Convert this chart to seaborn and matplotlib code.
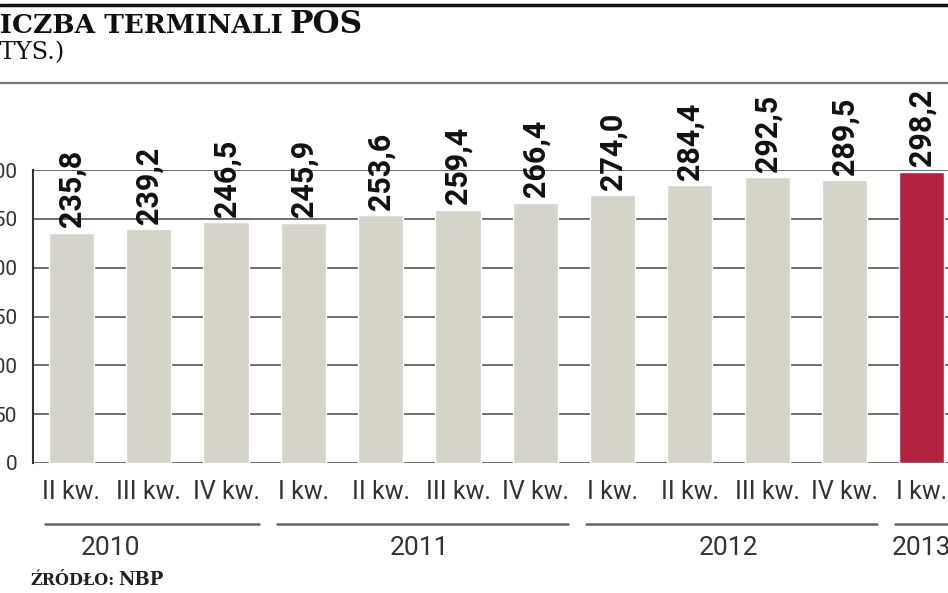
import matplotlib.pyplot as plt
import seaborn as sns
import pandas as pd
from matplotlib.lines import Line2D

# dane: liczba terminali POS (tys.), NBP
kwartaly = ['II kw.', 'III kw.', 'IV kw.',
            'I kw.', 'II kw.', 'III kw.', 'IV kw.',
            'I kw.', 'II kw.', 'III kw.', 'IV kw.',
            'I kw.']
numer_kw = [2, 3, 4, 1, 2, 3, 4, 1, 2, 3, 4, 1]
rok = [2010, 2010, 2010, 2011, 2011, 2011, 2011, 2012, 2012, 2012, 2012, 2013]
terminale = [235.8, 239.2, 246.5, 245.9, 253.6, 259.4, 266.4, 274.0, 284.4, 292.5, 289.5, 298.2]
yticks = [0, 50, 100, 150, 200, 250, 300]

szary = '#d4d4ca'
czerwony = '#b3223f'

df = pd.DataFrame({'okres': [k + ' ' + str(r) for k, r in zip(kwartaly, rok)],
                   'wartosc': terminale})
kolory = [szary] * (len(terminale) - 1) + [czerwony]

sns.set_style('white')
plt.rcParams['font.family'] = ['Roboto', 'DejaVu Sans']

fig = plt.figure(figsize=(9.48, 5.93), dpi=100)
ax = fig.add_axes([33 / 948, 130 / 593, 1 - 33 / 948, 293 / 593])

sns.barplot(data=df, x='okres', y='wartosc', hue='okres', palette=kolory,
            legend=False, width=0.585, saturation=1, ax=ax, zorder=2)

ax.set_xlim(-0.498, 11.34)
ax.set_ylim(0, 300)
ax.set_yticks(yticks)
ax.set_yticklabels([str(t) for t in yticks], fontsize=15, color='#333')
ax.set_xticks(range(len(kwartaly)))
ax.set_xticklabels(kwartaly, fontsize=18, color='#333')
ax.tick_params(axis='y', length=0, pad=11.5)
ax.tick_params(axis='x', length=0, pad=12.5)
ax.set_xlabel('')
ax.set_ylabel('')
ax.yaxis.grid(True, color='#555', lw=1.2)
ax.set_axisbelow(True)
for s in ['top', 'right', 'bottom']:
    ax.spines[s].set_visible(False)
ax.spines['left'].set_color('#333')
ax.spines['left'].set_linewidth(1.5)

# etykiety wartosci
for i, v in enumerate(terminale):
    ax.annotate(f'{v:.1f}'.replace('.', ','), xy=(i, v), xytext=(0, 4),
                textcoords='offset points', rotation=90, ha='center', va='bottom',
                fontsize=22, fontweight='bold', color='#111')

# linie i podpisy lat
tr = ax.get_xaxis_transform()
for r in sorted(set(rok)):
    idx = [i for i, x in enumerate(rok) if x == r]
    pierwszy, ostatni = idx[0], idx[-1]
    ax.add_line(Line2D([pierwszy - 0.34, ostatni + 0.42], [-0.208, -0.208], transform=tr,
                       color='#666', lw=1.8, clip_on=False))
    srodek = (pierwszy - (numer_kw[pierwszy] - 1) + ostatni) / 2
    ax.text(srodek, -0.29, str(r), transform=tr, ha='center', va='center',
            fontsize=19, color='#333')

# naglowek
fig.add_artist(Line2D([0, 1], [1 - 5 / 593, 1 - 5 / 593], transform=fig.transFigure,
                      color='#111', lw=2.5))
fig.add_artist(Line2D([0, 1], [1 - 83 / 593, 1 - 83 / 593], transform=fig.transFigure,
                      color='#777', lw=1.6))
y_tytul = 1 - 33 / 593
t1 = fig.text(-19 / 948, y_tytul, 'LICZBA TERMINALI', family='DejaVu Serif',
              fontweight='heavy', fontsize=19, color='#111', va='baseline')
fig.text(-10 / 948, 1 - 59 / 593, '(TYS.)', family='DejaVu Serif', fontsize=17.5,
         color='#111', va='baseline')

# zrodlo
y_zrodlo = 1 - 585 / 593
t2 = fig.text(30 / 948, y_zrodlo, 'ŹRÓDŁO:', family='DejaVu Serif',
              fontweight='bold', fontsize=11.5, color='#222', va='baseline')

# druga czesc napisow tuz za pierwsza, na tej samej linii bazowej
fig.canvas.draw()
r = fig.canvas.get_renderer()
x1 = t1.get_window_extent(r).x1 / fig.bbox.width
fig.text(x1 + 7 / 948, y_tytul, 'POS', family='DejaVu Serif', fontweight='heavy',
         fontsize=22.5, color='#111', va='baseline')
x2 = t2.get_window_extent(r).x1 / fig.bbox.width
fig.text(x2 + 4 / 948, y_zrodlo, 'NBP', family='DejaVu Serif', fontweight='bold',
         fontsize=13, color='#222', va='baseline')

fig.savefig('out.png', dpi=100)
